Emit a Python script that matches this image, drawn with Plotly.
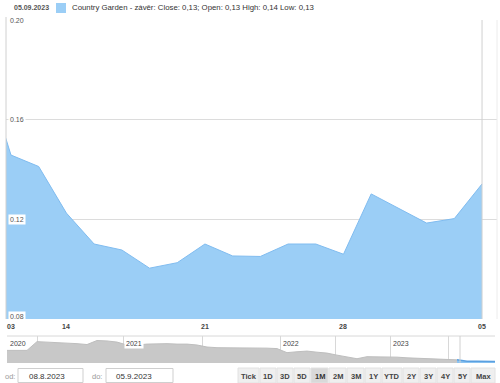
import plotly.graph_objects as go

# ---------------- data ----------------
trade_dates = ["2023-08-09", "2023-08-10", "2023-08-11", "2023-08-14", "2023-08-15",
               "2023-08-16", "2023-08-17", "2023-08-18", "2023-08-21", "2023-08-22",
               "2023-08-23", "2023-08-24", "2023-08-25", "2023-08-28", "2023-08-29",
               "2023-08-30", "2023-08-31", "2023-09-04", "2023-09-05"]
close_values = [0.1815, 0.1458, 0.1412, 0.1225, 0.1101, 0.1077, 0.1004, 0.1026, 0.1101,
                0.1053, 0.1051, 0.1101, 0.1101, 0.1060, 0.1302, 0.1245, 0.1185, 0.1203,
                0.1342]
x_tick_dates = ["2023-08-10", "2023-08-14", "2023-08-21", "2023-08-28", "2023-09-05"]
x_tick_labels = ["03", "14", "21", "28", "05"]
y_tick_vals = [0.08, 0.12, 0.16, 0.20]
y_tick_labels = ["0.08", "0.12", "0.16", "0.20"]

# navigator (long history, ordinal samples)
nav_values = [0.66, 0.66, 0.66, 1.05, 1.03, 1.01, 1.01, 0.96, 0.92, 1.10,
              1.08, 1.03, 0.90, 0.90, 0.94, 0.96, 0.96, 0.94, 0.94, 0.90,
              0.81, 0.78, 0.78, 0.76, 0.78, 0.76, 0.76, 0.74, 0.56, 0.60,
              0.63, 0.58, 0.54, 0.45, 0.38, 0.29, 0.38, 0.38, 0.36, 0.36,
              0.33, 0.31, 0.31, 0.29, 0.27, 0.24, 0.18, 0.18, 0.16, 0.17]
nav_year_labels = ["2020", "2021", "2022", "2023"]
nav_year_pos = [0.0, 11.6, 27.3, 38.3]
nav_half_pos = [3.0, 19.5, 32.8, 44.1]
nav_sel_start = 45.3

header_date = "05.09.2023"
series_name = "Country Garden - závěr"
open_v, high_v, low_v = 0.13, 0.14, 0.13
date_from, date_to = "08.8.2023", "05.9.2023"
range_buttons = ["Tick", "1D", "3D", "5D", "1M", "2M", "3M", "1Y", "YTD", "2Y", "3Y", "4Y", "5Y", "Max"]
button_widths = [22, 17, 17, 17, 18, 18, 18, 17, 21, 17, 17, 17, 17, 25]
selected_button = "1M"

# ---------------- layout helpers ----------------
W, H = 500, 383
L, R, T, B = 6, 3, 20, 20
PW, PH = W - L - R, H - T - B
def px(x): return (x - L) / PW
def py(y): return (H - B - y) / PH

FONT = "Liberation Sans, Arial, sans-serif"
fill_c = "rgb(155,206,246)"
line_c = "rgb(128,188,240)"

idx = list(range(len(trade_dates)))
fig = go.Figure()
fig.add_trace(go.Scatter(x=idx, y=close_values, mode="lines", fill="tozeroy",
                         fillcolor=fill_c, line=dict(color=line_c, width=1),
                         hoverinfo="skip", showlegend=False, xaxis="x", yaxis="y"))

nav_idx = list(range(len(nav_values)))
cut = 46
fig.add_trace(go.Scatter(x=nav_idx[:cut], y=nav_values[:cut], mode="lines", fill="tozeroy",
                         fillcolor="rgb(200,200,200)", line=dict(color="rgb(190,190,190)", width=1),
                         hoverinfo="skip", showlegend=False, xaxis="x2", yaxis="y2"))
fig.add_trace(go.Scatter(x=nav_idx[cut - 1:], y=nav_values[cut - 1:], mode="lines", fill="tozeroy",
                         fillcolor="rgb(140,195,240)", line=dict(color="rgb(90,160,225)", width=1.5),
                         hoverinfo="skip", showlegend=False, xaxis="x2", yaxis="y2"))

last = len(trade_dates) - 1
tick_idx = [trade_dates.index(d) for d in x_tick_dates]

shapes, annos = [], []
# crosshair, left border, right border
shapes.append(dict(type="line", xref="x", yref="y", x0=last, x1=last, y0=0.08, y1=0.20,
                   line=dict(color="#d0d0d0", width=1)))
shapes.append(dict(type="line", xref="paper", yref="paper", x0=0, x1=0, y0=py(319), y1=py(17),
                   line=dict(color="#d0d0d0", width=1)))
shapes.append(dict(type="line", xref="paper", yref="paper", x0=1, x1=1, y0=py(319), y1=py(20),
                   line=dict(color="#ececec", width=1)))
# y labels inside plot
for v, t in zip(y_tick_vals, y_tick_labels):
    annos.append(dict(x=px(8), xref="paper", y=v, yref="y", text=t, showarrow=False,
                      xanchor="left", yanchor="middle", bgcolor="white", borderpad=1,
                      yshift=3 if v == min(y_tick_vals) else 0,
                      font=dict(family=FONT, size=7, color="#555")))
# x labels below plot
for i, t in zip(tick_idx, x_tick_labels):
    annos.append(dict(x=i, xref="x", y=py(326), yref="paper", text="<b>" + t + "</b>",
                      showarrow=False, xanchor="center", yanchor="middle",
                      font=dict(family=FONT, size=7, color="#444")))
# header
annos.append(dict(x=px(12), xref="paper", y=py(8), yref="paper", text="<b>" + header_date + "</b>",
                  showarrow=False, xanchor="left", yanchor="middle",
                  font=dict(family=FONT, size=7, color="#555")))
shapes.append(dict(type="rect", xref="paper", yref="paper", x0=px(56), x1=px(66), y0=py(13), y1=py(3),
                   fillcolor=fill_c, line=dict(width=0)))
fmt = lambda v: f"{v:.2f}".replace(".", ",")
legend_txt = (f"{series_name}: Close: {fmt(close_values[-1])}; Open: {fmt(open_v)} "
              f"High: {fmt(high_v)} Low: {fmt(low_v)}")
annos.append(dict(x=px(70), xref="paper", y=py(8), yref="paper", text=legend_txt,
                  showarrow=False, xanchor="left", yanchor="middle",
                  font=dict(family=FONT, size=7.8, color="#333")))

# navigator frame
shapes.append(dict(type="line", xref="paper", yref="paper", x0=px(7), x1=px(495), y0=py(336), y1=py(336),
                   line=dict(color="#d8d8d8", width=1)))
shapes.append(dict(type="line", xref="x2", yref="paper", x0=nav_sel_start, x1=nav_sel_start,
                   y0=py(362.7), y1=py(336), line=dict(color="#d0d0d0", width=1)))
for p, t in zip(nav_year_pos, nav_year_labels):
    annos.append(dict(x=p, xref="x2", y=py(343), yref="paper", text=t, showarrow=False,
                      xanchor="left", yanchor="middle", xshift=1, bgcolor="white", borderpad=1,
                      font=dict(family=FONT, size=7, color="#444")))

# date inputs
annos.append(dict(x=px(3), xref="paper", y=py(376), yref="paper", text="od:", showarrow=False,
                  xanchor="left", yanchor="middle", font=dict(family=FONT, size=7.5, color="#999")))
shapes.append(dict(type="rect", xref="paper", yref="paper", x0=px(18), x1=px(83), y0=py(382.5), y1=py(368.5),
                   fillcolor="white", line=dict(color="#cfcfcf", width=1)))
annos.append(dict(x=px(27), xref="paper", y=py(376), yref="paper", text=date_from, showarrow=False,
                  xanchor="left", yanchor="middle", font=dict(family=FONT, size=8, color="#333")))
annos.append(dict(x=px(90), xref="paper", y=py(376), yref="paper", text="do:", showarrow=False,
                  xanchor="left", yanchor="middle", font=dict(family=FONT, size=7.5, color="#999")))
shapes.append(dict(type="rect", xref="paper", yref="paper", x0=px(106), x1=px(173), y0=py(382.5), y1=py(368.5),
                   fillcolor="white", line=dict(color="#cfcfcf", width=1)))
annos.append(dict(x=px(114), xref="paper", y=py(376), yref="paper", text=date_to, showarrow=False,
                  xanchor="left", yanchor="middle", font=dict(family=FONT, size=8, color="#333")))

# range buttons
bx = 238
for lab, w in zip(range_buttons, button_widths):
    sel = lab == selected_button
    shapes.append(dict(type="rect", xref="paper", yref="paper", x0=px(bx), x1=px(bx + w - 1),
                       y0=py(383), y1=py(368), fillcolor="#d9d9d9" if sel else "#efefef",
                       line=dict(color="#e2e2e2", width=1)))
    annos.append(dict(x=px(bx + (w - 1) / 2), xref="paper", y=py(376), yref="paper", text="<b>" + lab + "</b>",
                      showarrow=False, xanchor="center", yanchor="middle",
                      font=dict(family=FONT, size=7.5, color="#333" if sel else "#444")))
    bx += w

fig.update_layout(
    width=W, height=H, margin=dict(l=L, r=R, t=T, b=B, autoexpand=False),
    paper_bgcolor="white", plot_bgcolor="white", showlegend=False,
    xaxis=dict(domain=[0, 1], range=[0.82, 18.54], anchor="y", showgrid=False, zeroline=False,
               showline=False, showticklabels=False, ticks=""),
    yaxis=dict(domain=[py(319), 1], range=[0.08, 0.20], anchor="x", tickvals=y_tick_vals,
               showticklabels=False, showgrid=True, gridcolor="#dcdcdc", gridwidth=1,
               zeroline=False, showline=False, ticks=""),
    xaxis2=dict(domain=[px(7), px(495)], range=[0, 48.8], anchor="y2", showticklabels=False,
                showgrid=True, gridcolor="#d8d8d8", tickvals=nav_year_pos + nav_half_pos,
                zeroline=False, showline=False, ticks=""),
    yaxis2=dict(domain=[0, py(336)], range=[0.1, 1.3], anchor="x2", showticklabels=False,
                showgrid=False, zeroline=False, showline=False, ticks=""),
    shapes=shapes, annotations=annos,
)
fig.write_html("out.html", config={"displayModeBar": False},
               post_script="document.body.style.margin='0';document.body.style.overflow='hidden';")
